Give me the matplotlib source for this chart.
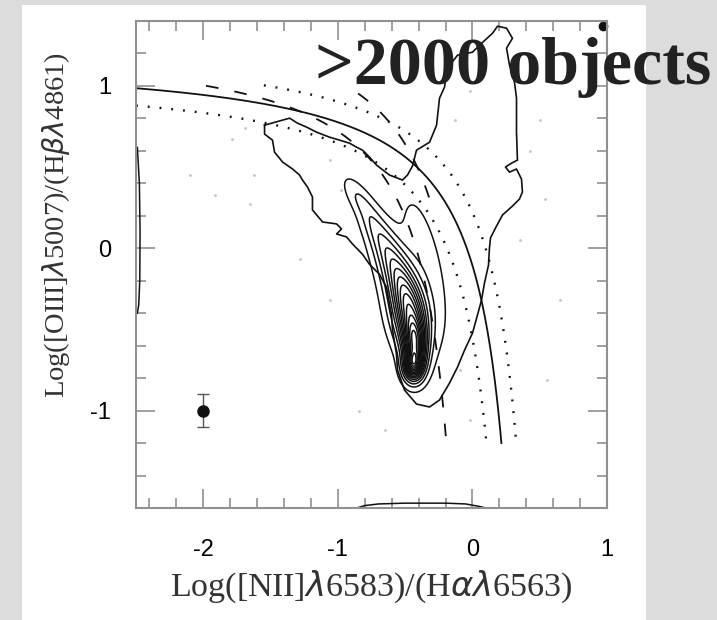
import numpy as np
import matplotlib
matplotlib.use("Agg")
import matplotlib.pyplot as plt
from matplotlib.ticker import MultipleLocator
from matplotlib.patches import Rectangle

plt.rcParams['axes.unicode_minus'] = False

# demarcation curves: log(OIII/Hb) = a / (log(NII/Ha) - b) + c
kewley = [0.61, 0.47, 1.19]
kauffmann = [0.61, 0.05, 1.3]
kauffmann_start = -1.98
kewley_err = [-0.1, 0.1]
err_start = [-2.5, -1.55]
y_floor = -1.2
# short model track above the limit
track = [0.61, 0.17, 1.55]
track_range = [-0.85, -0.29]

# outer (lowest) density contour, traced
outer_x = [-1.545, -1.411, -1.359, -1.300, -1.233, -1.159, -1.062, -0.988, -0.914,
           -0.862, -0.817, -0.765, -0.713, -0.617, -0.520, -0.483, -0.446, -0.416,
           -0.319, -0.267, -0.245, -0.208, -0.186, -0.111, -0.000, 0.052, 0.149,
           0.186, 0.253, 0.297, 0.253, 0.275, 0.312, 0.327, 0.327, 0.334, 0.290,
           0.245, 0.275, 0.327, 0.364, 0.371, 0.349, 0.297, 0.223, 0.171, 0.134,
           0.126, 0.119, 0.089, 0.067, 0.037, -0.000, -0.059, -0.111, -0.171,
           -0.245, -0.319, -0.416, -0.505, -0.557, -0.565, -0.594, -0.602, -0.617,
           -0.639, -0.691, -0.765, -0.817, -0.891, -0.936, -1.010, -0.973, -1.010,
           -1.114, -1.189, -1.189, -1.226, -1.263, -1.285, -1.337, -1.411, -1.471,
           -1.486, -1.545]
outer_y = [0.757, 0.788, 0.800, 0.769, 0.745, 0.714, 0.683, 0.665, 0.646, 0.622,
           0.603, 0.560, 0.511, 0.450, 0.419, 0.450, 0.505, 0.603, 0.652, 0.757,
           0.923, 0.991, 1.108, 1.188, 1.206, 1.249, 1.323, 1.366, 1.354, 1.292,
           1.231, 1.126, 1.022, 0.923, 0.714, 0.542, 0.523, 0.499, 0.468, 0.487,
           0.425, 0.345, 0.302, 0.259, 0.204, 0.124, 0.063, 0.001, -0.104, -0.215,
           -0.320, -0.412, -0.523, -0.628, -0.732, -0.831, -0.935, -0.978, -0.960,
           -0.874, -0.751, -0.652, -0.505, -0.407, -0.345, -0.241, -0.161, -0.100,
           -0.038, 0.025, 0.069, 0.087, 0.118, 0.149, 0.161, 0.235, 0.315, 0.376,
           0.419, 0.450, 0.487, 0.530, 0.591, 0.665, 0.702]

# contour hugging the bottom edge and the one hugging the left edge
bottom_x = [-0.86, -0.80, -0.70, -0.50, -0.20, -0.05, 0.05, 0.10]
bottom_y = [-1.60, -1.585, -1.575, -1.57, -1.57, -1.575, -1.59, -1.60]
left_x = [-2.49, -2.475, -2.47, -2.472, -2.48, -2.49]
left_y = [0.62, 0.40, 0.10, -0.20, -0.35, -0.40]

# star-forming sequence: rotated gaussian components of the number density
comp_x = [-0.84, -0.72, -0.61, -0.52, -0.46, -0.43, -0.44, -0.36]
comp_y = [0.30, 0.12, -0.06, -0.24, -0.42, -0.59, -0.72, -0.10]
comp_long = [0.10, 0.12, 0.13, 0.13, 0.13, 0.10, 0.06, 0.30]
comp_short = [0.04, 0.05, 0.065, 0.075, 0.08, 0.055, 0.045, 0.09]
comp_w = [0.10, 0.18, 0.32, 0.52, 0.80, 1.05, 1.00, 0.07]
comp_ang = [-50, -58, -63, -70, -78, -85, -90, -75]
level_frac = [0.02, 0.07, 0.13, 0.20, 0.27, 0.34, 0.41, 0.48, 0.55, 0.62,
              0.69, 0.76, 0.83, 0.90, 0.96]

# faint individual objects outside the contours
dots_x = [-1.69, -1.79, -2.10, -1.91, -1.65, -1.62, -1.06, -0.98, -0.13, -0.02, 0.43,
          0.50, 0.43, 0.54, 0.35, -0.09, -0.02, -0.65, -0.84, -1.06, -1.28, 0.55, 0.65]
dots_y = [0.74, 0.67, 0.45, 0.33, 0.27, 0.45, 0.54, 0.36, 0.79, 0.97, 1.16,
          0.79, 0.60, 0.30, 0.05, -0.75, -1.06, -1.12, -1.00, -0.32, -0.07, -0.81, -0.32]

# typical error bar and the lone object in the upper corner
err_x, err_y, err_dy = [-2.0], [-1.0], [0.1]
corner_x, corner_y = [0.97], [1.37]

fig = plt.figure(figsize=(7.17, 6.20), dpi=100)
fig.patch.set_facecolor('#dcdcdc')
fig.patches.append(Rectangle((0.0307, 0.0), 0.870, 0.992, transform=fig.transFigure,
                             facecolor='white', edgecolor='none', zorder=-5))

ax = fig.add_axes([0.1897, 0.1806, 0.657, 0.786])
ax.set_xlim(-2.5, 1.0)
ax.set_ylim(-1.6, 1.4)

lc = '#111111'

ax.scatter(dots_x, dots_y, s=4, color='#c4c4c4', linewidths=0)

# theoretical upper limit and its +-0.1 dex band
a, b, c = kewley
x_end = b + a / (y_floor - c)
xx = np.linspace(-2.5, x_end, 600)
ax.plot(xx, a / (xx - b) + c, color=lc, lw=1.3)
for s, x0 in zip(kewley_err, err_start):
    x_e = b + s + a / (y_floor - c - s)
    xs = np.linspace(x0, x_e, 600)
    ax.plot(xs, a / (xs - b - s) + c + s, color=lc, lw=1.7, linestyle=(0, (0.8, 4.2)))

# empirical star-forming limit
a, b, c = kauffmann
x_end = b + a / (y_floor - c)
xk = np.linspace(kauffmann_start, x_end, 600)
ax.plot(xk, a / (xk - b) + c, color=lc, lw=1.3, linestyle=(0, (7, 9)))

a, b, c = track
xt = np.linspace(track_range[0], track_range[1], 100)
ax.plot(xt, a / (xt - b) + c, color=lc, lw=1.3, linestyle=(0, (7, 9)))

# density contours
gx, gy = np.meshgrid(np.linspace(-1.3, 0.0, 400), np.linspace(-1.2, 0.7, 400))
dens = np.zeros_like(gx)
for cx, cy, sl, ss, w, ang in zip(comp_x, comp_y, comp_long, comp_short, comp_w, comp_ang):
    t = np.radians(ang)
    u = (gx - cx) * np.cos(t) + (gy - cy) * np.sin(t)
    v = -(gx - cx) * np.sin(t) + (gy - cy) * np.cos(t)
    dens += w * np.exp(-0.5 * ((u / sl) ** 2 + (v / ss) ** 2))
ax.contour(gx, gy, dens, levels=np.array(level_frac) * dens.max(), colors=lc, linewidths=1.1)

ax.plot(outer_x + outer_x[:1], outer_y + outer_y[:1], color=lc, lw=1.2)
ax.plot(bottom_x, bottom_y, color=lc, lw=1.1, clip_on=False)
ax.plot(left_x, left_y, color=lc, lw=1.1)

ax.errorbar(err_x, err_y, yerr=err_dy, fmt='o', color=lc, ms=8, capsize=4,
            elinewidth=1.0, ecolor='#555555', capthick=1.0)
ax.plot(corner_x, corner_y, 'o', color=lc, ms=6, clip_on=False)

# axes styling
for sp in ax.spines.values():
    sp.set_color('#909090')
    sp.set_linewidth(1.5)
ax.xaxis.set_major_locator(MultipleLocator(1))
ax.yaxis.set_major_locator(MultipleLocator(1))
ax.xaxis.set_minor_locator(MultipleLocator(0.2))
ax.yaxis.set_minor_locator(MultipleLocator(0.2))
ax.tick_params(which='both', direction='in', top=True, right=True, color='#909090', width=1.2)
ax.tick_params(which='major', length=14, pad=18)
ax.tick_params(which='minor', length=7)
ax.tick_params(axis='x', which='major', pad=22)
for lab in ax.get_xticklabels() + ax.get_yticklabels():
    lab.set_fontfamily('Liberation Sans')
    lab.set_fontsize(17)

ax.set_xlabel(r'Log([NII]$\lambda$6583)/(H$\alpha\lambda$6563)', fontfamily='Liberation Serif',
              fontsize=24.5, color='#333333', labelpad=6)
ax.set_ylabel(r'Log([OIII]$\lambda$5007)/(H$\beta\lambda$4861)', fontfamily='Liberation Serif',
              fontsize=20.5, color='#333333')
ax.yaxis.set_label_coords(-0.135, 0.58)

fig.text(0.44, 0.865, '>2000 objects', fontfamily='Liberation Serif', fontweight='bold',
         fontsize=49, color='#222222', ha='left', va='baseline')

fig.savefig('out.png', dpi=100, facecolor=fig.get_facecolor())
